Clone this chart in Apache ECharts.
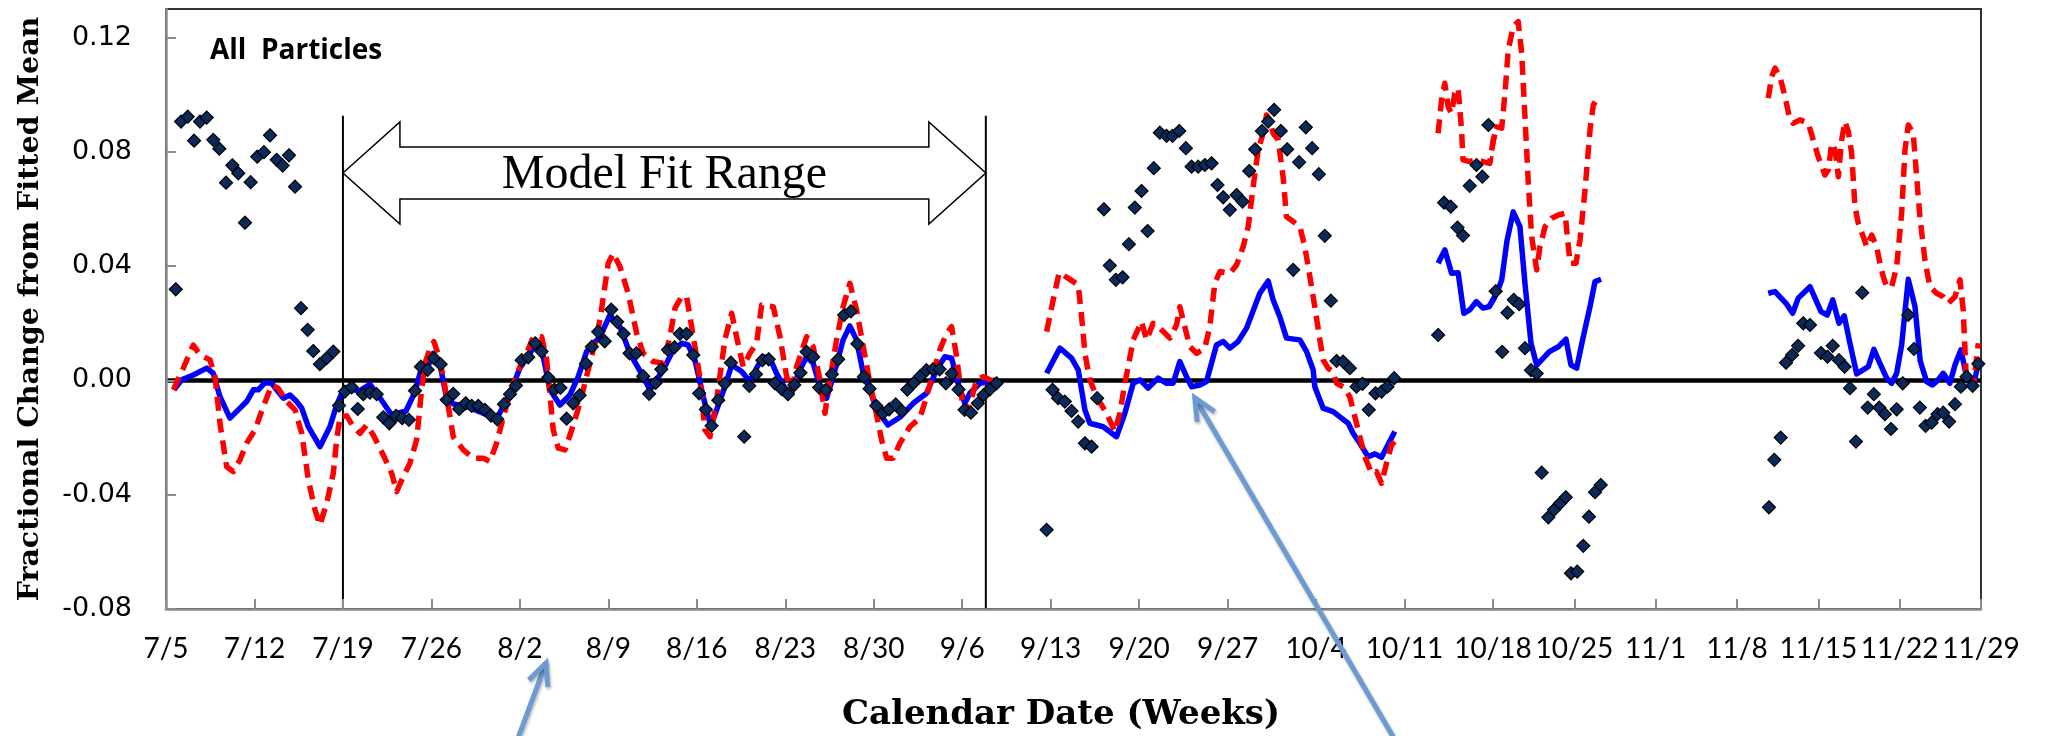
<!DOCTYPE html>
<html><head><meta charset="utf-8">
<script src="https://cdn.jsdelivr.net/npm/echarts@6.0.0/dist/echarts.min.js"></script>
<style>html,body{margin:0;padding:0;background:#fff}#chart{width:2068px;height:736px}</style>
</head><body><div id="chart"></div>
<script>
// ---- tick labels (one per week, day offsets 0,7,...,147 from 7/5) ----
const weekLabels = ['7/5','7/12','7/19','7/26','8/2','8/9','8/16','8/23','8/30','9/6','9/13','9/20','9/27','10/4','10/11','10/18','10/25','11/1','11/8','11/15','11/22','11/29'];

// ---- observed fractional change (diamonds); x = days since 7/5 ----
const obsDay = [0.77,1.19,1.72,2.22,2.69,3.22,3.74,4.22,4.75,5.25,5.72,6.25,6.70,7.22,7.75,8.23,8.76,9.23,9.73,10.21,10.68,11.21,11.65,12.18,12.71,13.24,
 13.69,14.16,14.69,15.17,15.61,16.14,16.67,17.19,17.67,18.20,18.69,19.22,19.70,20.17,20.70,21.20,21.73,22.21,22.73,23.20,23.71,24.19,24.71,25.24,25.71,26.21,26.74,27.22,27.69,
 28.14,28.66,29.22,29.72,30.25,30.74,31.21,31.70,32.22,32.73,33.23,33.70,34.20,34.71,35.23,35.70,36.21,36.68,37.21,37.76,38.23,38.74,39.19,39.72,40.23,40.66,41.19,41.72,
 42.19,42.72,43.17,43.70,44.22,44.70,45.75,46.15,46.68,47.19,47.69,48.18,48.71,49.21,49.71,50.20,50.69,51.21,51.68,52.22,52.69,53.19,53.66,54.19,54.71,55.22,55.67,56.20,
 56.70,57.22,57.74,58.22,58.66,59.16,59.68,60.17,60.68,61.21,61.71,62.18,62.71,63.19,63.69,64.24,64.69,65.19,65.72,
 69.68,70.15,70.59,71.12,71.65,72.18,72.71,73.24,73.68,74.21,74.68,75.16,75.69,76.19,76.66,77.19,77.67,78.16,78.64,79.17,79.64,80.17,80.70,81.15,81.67,82.20,82.73,
 83.20,83.65,84.18,84.71,85.18,85.71,86.18,86.71,87.21,87.68,88.21,88.71,89.19,89.66,90.19,90.69,91.22,91.69,92.17,92.62,93.14,93.67,94.20,94.68,95.17,95.70,96.18,96.65,97.18,
 100.66,101.13,101.66,102.19,102.63,103.16,103.69,104.16,104.64,105.23,105.79,106.25,106.79,107.26,107.75,108.27,108.76,109.19,109.76,110.25,110.77,111.26,111.71,112.25,112.77,113.26,113.78,114.27,
 128.75,129.21,129.76,130.22,130.74,131.26,131.70,132.28,133.23,133.79,134.24,134.78,135.26,135.72,136.24,136.78,137.25,137.78,138.24,138.73,139.25,139.74,140.26,140.74,141.23,141.74,142.23,142.75,143.26,143.75,144.26,144.76,145.27,145.76,146.28,146.77];
const obsVal = [0.0319,0.0906,0.0923,0.0839,0.0906,0.0920,0.0842,0.0811,0.0692,0.0753,0.0725,0.0552,0.0694,0.0783,0.0799,0.0858,0.0772,0.0752,0.0788,0.0678,0.0253,0.0177,0.0103,0.0057,0.0078,0.0101,
 -0.0088,-0.0039,-0.0024,-0.0100,-0.0048,-0.0043,-0.0048,-0.0129,-0.0150,-0.0124,-0.0132,-0.0138,-0.0036,0.0048,0.0037,0.0078,0.0057,-0.0068,-0.0047,-0.0100,-0.0080,-0.0089,-0.0089,-0.0103,-0.0123,-0.0136,-0.0083,-0.0048,-0.0018,
 0.0071,0.0081,0.0130,0.0101,0.0010,-0.0032,-0.0026,-0.0134,-0.0080,-0.0052,0.0059,0.0118,0.0170,0.0137,0.0248,0.0205,0.0163,0.0095,0.0095,0.0015,-0.0047,-0.0009,0.0039,0.0107,0.0116,0.0163,0.0163,0.0089,
 -0.0045,-0.0102,-0.0159,-0.0069,-0.0011,0.0062,-0.0197,-0.0019,0.0022,0.0071,0.0074,-0.0010,-0.0030,-0.0048,-0.0016,0.0027,0.0100,0.0082,-0.0025,-0.0033,0.0022,0.0074,0.0229,0.0242,0.0128,0.0013,-0.0029,-0.0089,
 -0.0115,-0.0101,-0.0084,-0.0107,-0.0032,-0.0009,0.0015,0.0036,0.0039,0.0039,-0.0010,0.0024,-0.0032,-0.0103,-0.0113,-0.0080,-0.0051,-0.0031,-0.0010,
 -0.0523,-0.0033,-0.0062,-0.0074,-0.0107,-0.0144,-0.0220,-0.0232,-0.0062,0.0599,0.0402,0.0352,0.0361,0.0477,0.0605,0.0663,0.0523,0.0743,0.0867,0.0856,0.0856,0.0873,0.0813,0.0748,0.0748,0.0754,0.0760,
 0.0684,0.0641,0.0597,0.0649,0.0626,0.0733,0.0809,0.0873,0.0906,0.0947,0.0873,0.0809,0.0387,0.0764,0.0886,0.0813,0.0722,0.0506,0.0279,0.0068,0.0066,0.0043,-0.0022,-0.0012,-0.0103,-0.0045,-0.0039,-0.0022,0.0008,
 0.0159,0.0622,0.0608,0.0535,0.0507,0.0681,0.0754,0.0713,0.0894,0.0312,0.0100,0.0237,0.0282,0.0267,0.0113,0.0036,0.0024,-0.0323,-0.0479,-0.0453,-0.0430,-0.0409,-0.0675,-0.0669,-0.0579,-0.0477,-0.0391,-0.0366,
 -0.0444,-0.0278,-0.0200,0.0062,0.0089,0.0121,0.0200,0.0194,0.0096,0.0083,0.0121,0.0071,0.0048,-0.0027,-0.0214,0.0307,-0.0095,-0.0048,-0.0095,-0.0118,-0.0170,-0.0101,-0.0010,0.0229,0.0110,-0.0095,-0.0159,-0.0148,-0.0118,-0.0113,-0.0144,-0.0083,-0.0022,0.0013,-0.0019,0.0058];

// ---- model (solid blue); null marks a gap ----
const fitDay = [0.63,1.24,2.16,3.22,3.74,4.27,5.06,5.72,6.38,6.91,7.30,7.83,8.36,8.76,9.28,9.81,10.34,10.74,11.26,12.18,12.97,13.50,14.03,14.72,15.21,16.14,16.77,17.86,18.99,19.70,
 20.13,20.68,21.15,21.68,22.21,22.73,23.89,25.24,26.16,26.74,27.37,28.01,28.80,29.33,29.85,30.38,31.17,31.96,32.62,33.28,34.34,35.13,35.92,36.71,37.76,38.29,39.34,40.14,40.80,41.32,41.85,
 42.51,43.10,43.57,44.22,44.76,45.55,46.20,46.73,47.26,47.78,48.31,48.97,49.50,50.02,50.69,51.21,51.74,52.27,52.79,53.58,54.11,54.64,55.17,55.83,56.25,57.12,58.07,59.12,60.18,60.97,
 61.63,62.16,62.68,63.21,63.61,64.40,65.72, null,
 69.68,70.73,71.65,72.18,72.71,73.10,74.15,75.21,75.87,76.53,77.06,77.71,78.50,79.17,79.69,80.22,80.75,81.15,81.80,82.33,83.12,83.65,84.18,84.83,85.50,86.55,87.21,87.60,88.13,88.66,89.72,
 90.25,90.77,90.90,91.56,92.35,93.01,93.54,93.93,94.46,95.12,95.65,96.18,97.23, null,
 100.66,101.19,101.72,102.24,102.69,103.16,103.69,104.21,104.67,105.32,105.75,106.20,106.74,107.32,107.75,108.27,108.76,109.33,109.85,110.62,111.28,111.71,112.20,112.77,113.35,113.78,114.30, null,
 128.69,129.27,130.28,130.79,131.27,132.28,133.23,133.77,134.24,134.78,135.23,135.72,136.30,137.30,137.78,138.30,138.88,139.31,139.74,140.17,140.74,141.32,141.77,142.32,142.83,143.31,143.75,144.32,144.76,145.27,145.76,146.33,146.77];
const fitVal = [-0.0033,0.0002,0.0019,0.0043,0.0025,-0.0057,-0.0132,-0.0103,-0.0074,-0.0033,-0.0033,-0.0008,-0.0010,-0.0033,-0.0062,-0.0051,-0.0074,-0.0097,-0.0162,-0.0232,-0.0162,-0.0086,-0.0033,-0.0025,-0.0039,-0.0014,-0.0051,-0.0121,-0.0107,-0.0040,
 0.0030,0.0044,0.0095,0.0054,-0.0062,-0.0082,-0.0093,-0.0117,-0.0135,-0.0086,-0.0028,0.0044,0.0095,0.0132,0.0083,-0.0033,-0.0086,-0.0051,0.0013,0.0101,0.0153,0.0229,0.0188,0.0095,0.0013,-0.0033,0.0037,0.0107,0.0130,0.0124,0.0072,
 -0.0057,-0.0160,-0.0103,-0.0022,0.0054,0.0031,-0.0004,0.0043,0.0083,0.0078,0.0025,-0.0027,-0.0045,0.0025,0.0083,0.0060,-0.0022,-0.0062,0.0013,0.0142,0.0191,0.0142,0.0025,-0.0051,-0.0103,-0.0156,-0.0129,-0.0080,-0.0045,0.0037,
 0.0083,0.0078,-0.0010,-0.0080,-0.0045,-0.0010,0.0002, null,
 0.0025,0.0113,0.0078,0.0037,-0.0103,-0.0150,-0.0162,-0.0197,-0.0115,-0.0010,0.0002,-0.0027,0.0008,-0.0010,-0.0010,0.0066,0.0013,-0.0022,-0.0016,-0.0004,0.0124,0.0136,0.0113,0.0136,0.0183,0.0305,0.0348,0.0282,0.0223,0.0148,0.0142,
 0.0101,0.0037,-0.0022,-0.0097,-0.0109,-0.0132,-0.0150,-0.0185,-0.0220,-0.0267,-0.0257,-0.0269,-0.0179, null,
 0.0410,0.0457,0.0375,0.0377,0.0235,0.0247,0.0276,0.0253,0.0258,0.0305,0.0352,0.0488,0.0590,0.0538,0.0340,0.0130,0.0054,0.0078,0.0101,0.0118,0.0144,0.0054,0.0043,0.0153,0.0258,0.0346,0.0354, null,
 0.0305,0.0311,0.0267,0.0235,0.0288,0.0328,0.0241,0.0229,0.0282,0.0200,0.0226,0.0130,0.0023,0.0048,0.0109,0.0060,0.0008,-0.0010,0.0025,0.0124,0.0354,0.0258,0.0068,-0.0004,-0.0016,0.0002,0.0025,-0.0010,0.0054,0.0107,0.0013,-0.0022,0.0060];

// ---- alternative model (dashed red); null marks a gap ----
const altDay = [0.58,1.37,2.16,2.69,3.48,3.88,4.27,4.80,5.32,5.85,6.38,7.04,7.70,8.36,8.88,9.55,10.21,10.74,11.26,11.79,12.18,12.71,13.24,13.50,13.77,14.30,14.82,15.35,15.88,16.40,
 17.19,17.86,18.25,18.77,19.30,19.83,20.17,20.49,20.89,21.20,21.68,22.21,22.73,23.52,24.31,25.10,25.63,26.16,26.69,27.22,27.69,28.16,28.54,29.06,29.72,30.12,30.64,31.04,31.57,32.10,
 32.75,33.41,33.94,34.34,34.99,35.39,35.92,36.57,37.24,37.76,38.55,39.34,39.87,40.27,40.80,41.19,41.46,41.85,42.25,42.64,43.04,43.57,44.22,44.76,45.20,45.67,46.20,46.73,47.13,48.05,
 48.58,49.11,49.50,49.90,50.69,51.21,51.74,52.14,52.53,53.06,53.58,54.11,54.64,55.17,55.70,56.10,56.62,57.02,57.54,58.07,58.86,59.65,60.18,60.70,61.23,61.76,62.16,62.56,63.08,63.45,
 64.14,64.66,65.19,65.72, null,
 69.68,70.20,70.67,71.38,72.18,72.45,72.71,73.10,73.63,74.42,75.08,75.47,75.87,76.13,76.53,77.19,77.59,78.11,78.64,79.43,79.96,80.22,80.48,81.01,81.54,82.20,82.59,82.99,83.39,84.18,
 84.71,85.23,85.63,86.02,86.42,86.81,87.08,87.34,87.60,88.00,88.39,88.66,89.19,89.72,90.11,90.51,90.90,91.30,91.56,91.95,92.35,92.62,93.14,93.67,94.07,94.46,94.86,95.39,95.78,96.18,
 96.57,96.97,97.23, null,
 100.66,100.93,101.19,101.45,101.72,101.98,102.24,102.51,102.63,103.16,103.69,104.21,104.72,105.03,105.32,105.75,106.03,106.31,106.74,107.17,107.47,107.75,108.04,108.33,108.76,109.04,
 109.48,110.05,110.62,111.20,111.63,112.14,112.49,112.92,113.35,113.63,114.06, null,
 128.69,128.98,129.27,129.70,130.13,130.56,130.84,131.42,132.13,132.56,132.99,133.57,133.86,134.15,134.44,134.72,135.01,135.29,135.58,135.87,136.15,136.44,136.87,137.16,137.59,138.02,
 138.30,138.59,138.88,139.31,139.74,140.17,140.46,140.74,141.17,141.46,141.74,142.17,142.60,143.18,143.75,144.18,144.76,145.19,145.47,145.62,145.76,146.33,146.77];
const altVal = [-0.0033,0.0043,0.0124,0.0089,0.0072,0.0013,-0.0150,-0.0302,-0.0319,-0.0278,-0.0220,-0.0173,-0.0092,-0.0016,-0.0027,-0.0074,-0.0103,-0.0185,-0.0348,-0.0453,-0.0506,-0.0430,-0.0325,-0.0208,-0.0127,-0.0124,-0.0162,-0.0185,-0.0156,-0.0191,
 -0.0261,-0.0325,-0.0389,-0.0337,-0.0290,-0.0208,-0.0057,0.0060,0.0113,0.0136,0.0072,-0.0057,-0.0197,-0.0243,-0.0272,-0.0272,-0.0284,-0.0220,-0.0128,-0.0045,0.0013,0.0065,0.0095,0.0153,0.0153,0.0072,-0.0173,-0.0237,-0.0243,-0.0173,
 -0.0080,0.0037,0.0131,0.0212,0.0410,0.0445,0.0398,0.0305,0.0165,0.0095,0.0066,0.0060,0.0153,0.0253,0.0293,0.0293,0.0223,0.0118,0.0009,-0.0173,-0.0197,-0.0068,0.0142,0.0235,0.0142,0.0048,0.0095,0.0130,0.0264,0.0258,
 0.0153,0.0013,-0.0033,0.0048,0.0153,0.0118,0.0002,-0.0115,0.0002,0.0142,0.0258,0.0340,0.0247,0.0118,-0.0010,-0.0092,-0.0208,-0.0272,-0.0272,-0.0220,-0.0162,-0.0132,-0.0057,0.0025,0.0107,0.0165,0.0188,0.0083,-0.0103,-0.0110,
 0.0002,0.0013,0.0002,-0.0002, null,
 0.0171,0.0282,0.0377,0.0358,0.0334,0.0223,0.0095,0.0002,-0.0057,-0.0115,-0.0179,-0.0115,-0.0010,0.0048,0.0142,0.0206,0.0142,0.0200,0.0183,0.0148,0.0194,0.0258,0.0212,0.0118,0.0095,0.0113,0.0188,0.0340,0.0381,0.0375,
 0.0404,0.0468,0.0538,0.0678,0.0807,0.0865,0.0929,0.0912,0.0865,0.0842,0.0713,0.0573,0.0556,0.0538,0.0468,0.0363,0.0258,0.0142,0.0072,0.0043,0.0031,-0.0010,-0.0022,-0.0057,-0.0127,-0.0197,-0.0267,-0.0325,-0.0319,-0.0360,
 -0.0290,-0.0226,-0.0214, null,
 0.0865,0.0982,0.1040,0.0958,0.0935,0.1005,0.1023,0.0877,0.0772,0.0766,0.0772,0.0766,0.0760,0.0842,0.0888,0.0883,0.1005,0.1157,0.1238,0.1256,0.1145,0.0923,0.0690,0.0503,0.0387,0.0468,
 0.0538,0.0568,0.0579,0.0585,0.0410,0.0410,0.0492,0.0667,0.0877,0.0964,0.0993, null,
 0.0988,0.1063,0.1093,0.1063,0.0993,0.0912,0.0900,0.0912,0.0900,0.0842,0.0783,0.0719,0.0737,0.0830,0.0807,0.0713,0.0842,0.0906,0.0871,0.0795,0.0608,0.0550,0.0503,0.0468,0.0509,0.0468,
 0.0410,0.0363,0.0328,0.0328,0.0398,0.0585,0.0807,0.0894,0.0865,0.0713,0.0573,0.0422,0.0328,0.0305,0.0293,0.0270,0.0293,0.0352,0.0247,0.0107,-0.0010,-0.0022,0.0130];

// ---- annotations (data coordinates) ----
const fitRange = [14, 64.87];          // Model Fit Range boundaries (days)
const fitBarTop = 0.0926;              // top of the boundary bars
const fitArrowY = 0.0726;              // level of the double arrow
const pointerTips = [[30.06, -0.0989], [81.41, -0.0061]];
const pointerTails = [[27.45, -0.1300], [97.80, -0.1300]];

const Y_MIN = -0.08, Y_MAX = 0.13, SPLIT_DAY = 105;

const pairs = (xs, ys) => xs.map((x, i) => [x, ys[i]]);
const obsPairs = pairs(obsDay, obsVal);
const fitPairs = pairs(fitDay, fitVal);
const altPairs = pairs(altDay, altVal);

const gridBox = {top: 9, bottom: 127, outerBoundsMode: 'none', containLabel: false};
const axisGray = '#8c8c8c';

function xAxisFor(gi, min, max, hideMin) {
  return {
    gridIndex: gi, type: 'value', min: min, max: max, interval: 7, z: 3,
    axisLine: {show: true, onZero: false, lineStyle: {color: axisGray, width: 2.5}},
    axisTick: {show: true, inside: true, length: 10, lineStyle: {color: axisGray, width: 2}},
    splitLine: {show: false},
    axisLabel: {
      show: true, margin: 26, color: '#000', fontFamily: 'Lato', fontSize: 28,
      showMinLabel: !hideMin, showMaxLabel: true, hideOverlap: false,
      formatter: v => weekLabels[Math.round(v / 7)] || ''
    }
  };
}

const diamondStyle = {color: '#0b2a5c', borderColor: '#000', borderWidth: 1.2, opacity: 1};

function seriesFor(gi, obs) {
  return [
    {type: 'line', name: 'Model', xAxisIndex: gi, yAxisIndex: gi, data: fitPairs, symbol: 'none', connectNulls: false, clip: true,
     lineStyle: {color: '#0000ff', width: 5.5, join: 'round', opacity: 1}, z: 3, silent: true},
    {type: 'line', name: 'Alternative model', xAxisIndex: gi, yAxisIndex: gi, data: altPairs, symbol: 'none', connectNulls: false, clip: true,
     lineStyle: {color: '#ff0000', width: 5.5, type: [14, 8], cap: 'butt', join: 'round', opacity: 1}, z: 4, silent: true},
    {type: 'scatter', name: 'Observed', xAxisIndex: gi, yAxisIndex: gi, data: obs, symbol: 'diamond', symbolSize: 13,
     itemStyle: diamondStyle, z: 5, silent: true}
  ];
}

const chart = echarts.init(document.getElementById('chart'), null, {renderer: 'canvas'});
chart.setOption({
  animation: false,
  backgroundColor: '#fff',
  grid: [
    Object.assign({left: 166, right: 2068 - 1493}, gridBox),
    Object.assign({left: 1493, right: 87}, gridBox),
    Object.assign({left: 166, right: 87, show: true, borderColor: '#333', borderWidth: 2, backgroundColor: 'transparent'}, gridBox)
  ],
  xAxis: [
    xAxisFor(0, 0, SPLIT_DAY, false),
    xAxisFor(1, SPLIT_DAY, 147, true),
    {gridIndex: 2, type: 'value', min: 0, max: 1, show: false}
  ],
  yAxis: [
    {gridIndex: 0, type: 'value', min: Y_MIN, max: Y_MAX, interval: 0.04, z: 3,
     axisLine: {show: true, lineStyle: {color: axisGray, width: 2.5}},
     axisTick: {show: true, inside: true, length: 10, lineStyle: {color: axisGray, width: 2}},
     splitLine: {show: false},
     axisLabel: {margin: 34, color: '#000', fontFamily: 'DejaVu Sans', fontSize: 27, showMaxLabel: false,
                 formatter: v => (Math.abs(v) < 1e-9 ? 0 : v).toFixed(2)},
     name: 'Fractional Change from Fitted Mean', nameLocation: 'middle', nameGap: 121, nameRotate: 90, nameMoveOverlap: false,
     nameTextStyle: {fontFamily: 'DejaVu Serif', fontWeight: 'bold', fontSize: 28.5, color: '#000', padding: [0, 0, 0, 0]}},
    {gridIndex: 1, type: 'value', min: Y_MIN, max: Y_MAX, show: false},
    {gridIndex: 2, type: 'value', min: Y_MIN, max: Y_MAX, show: false}
  ],
  graphic: [
    {type: 'text', x: 210, y: 51, z: 10, style: {text: 'All  Particles', align: 'left', verticalAlign: 'middle',
      fontFamily: 'Open Sans', fontWeight: 'bold', fontSize: 28, fill: '#000'}},
    {type: 'text', x: 1061, y: 715, z: 10, style: {text: 'Calendar Date (Weeks)', align: 'center', verticalAlign: 'middle',
      fontFamily: 'DejaVu Serif', fontWeight: 'bold', fontSize: 34, fill: '#000'}}
  ],
  series: [
    // zero reference line across the whole plot
    {type: 'custom', xAxisIndex: 2, yAxisIndex: 2, data: [[0, 0]], z: 2, silent: true,
     renderItem: (p, api) => {
       const a = api.coord([0, 0]), b = api.coord([1, 0]);
       return {type: 'line', shape: {x1: a[0], y1: a[1], x2: b[0], y2: b[1]}, style: {stroke: '#000', lineWidth: 4.5, fill: 'none'}};
     }},
    // model fit range bars + double arrow
    {type: 'custom', xAxisIndex: 0, yAxisIndex: 0, data: [[fitRange[0], 0]], z: 1, silent: true, clip: false,
     renderItem: (p, api) => {
       const a0 = api.coord([fitRange[0], fitArrowY]), a1 = api.coord([fitRange[1], fitArrowY]);
       const t0 = api.coord([fitRange[0], fitBarTop]), b0 = api.coord([fitRange[0], Y_MIN]);
       const t1 = api.coord([fitRange[1], fitBarTop]), b1 = api.coord([fitRange[1], Y_MIN]);
       const hl = 57, hh = 51, sh = 26, x0 = a0[0], x1 = a1[0], y = a0[1];
       return {type: 'group', children: [
         {type: 'line', shape: {x1: t0[0], y1: t0[1], x2: b0[0], y2: b0[1]}, style: {stroke: '#000', lineWidth: 2, fill: 'none'}},
         {type: 'line', shape: {x1: t1[0], y1: t1[1], x2: b1[0], y2: b1[1]}, style: {stroke: '#000', lineWidth: 2, fill: 'none'}},
         {type: 'polygon', shape: {points: [[x0, y], [x0 + hl, y - hh], [x0 + hl, y - sh], [x1 - hl, y - sh], [x1 - hl, y - hh], [x1, y],
                                             [x1 - hl, y + hh], [x1 - hl, y + sh], [x0 + hl, y + sh], [x0 + hl, y + hh]]},
          style: {fill: '#fff', stroke: '#000', lineWidth: 1.5}},
         {type: 'text', style: {text: 'Model Fit Range', x: (x0 + x1) / 2, y: y + 2, align: 'center', verticalAlign: 'middle',
          fontFamily: 'Liberation Serif', fontSize: 48, fill: '#000'}}
       ]};
     }},
    ...seriesFor(0, obsPairs.filter(d => d[0] < SPLIT_DAY)),
    ...seriesFor(1, obsPairs.filter(d => d[0] >= SPLIT_DAY)),
    // light-blue pointer arrows
    {type: 'custom', xAxisIndex: 0, yAxisIndex: 0, data: [[fitRange[0], 0]], z: 20, silent: true, clip: false,
     renderItem: (p, api) => {
       const children = [];
       const st = {stroke: '#6b9bd2', fill: 'none', lineWidth: 5, shadowBlur: 3, shadowColor: 'rgba(0,0,0,0.3)', shadowOffsetX: 1, shadowOffsetY: 2};
       pointerTips.forEach((tp, i) => {
         const tip = api.coord(tp), tail = api.coord(pointerTails[i]);
         const dx = tail[0] - tip[0], dy = tail[1] - tip[1], len = Math.hypot(dx, dy);
         const ux = dx / len, uy = dy / len, ang = 25 * Math.PI / 180, al = 24;
         const arm = s => [tip[0] + al * (ux * Math.cos(s * ang) - uy * Math.sin(s * ang)),
                           tip[1] + al * (ux * Math.sin(s * ang) + uy * Math.cos(s * ang))];
         children.push({type: 'line', shape: {x1: tip[0], y1: tip[1], x2: tail[0], y2: tail[1]}, style: Object.assign({}, st)});
         children.push({type: 'polyline', shape: {points: [arm(1), tip, arm(-1)]}, style: Object.assign({}, st)});
       });
       return {type: 'group', children: children};
     }}
  ]
});
</script>
</body></html>
